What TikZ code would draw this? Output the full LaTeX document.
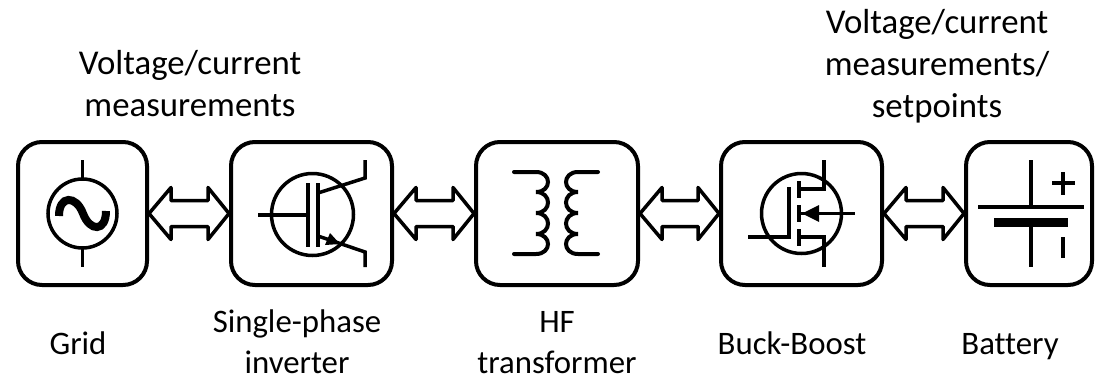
\documentclass[tikz,border=0pt]{standalone}
\usepackage{fontspec}
\setmainfont[Ligatures=NoCommon]{Carlito}
\usepackage{tikz}
\usetikzlibrary{calc}

\tikzset{
    unitbox/.style={draw=black, line width=4pt, rounded corners=24pt, minimum height=143pt},
    label/.style={anchor=base, inner sep=0pt, align=center, font=\fontsize{34.8}{42}\selectfont},
    unitlabel/.style={label, font=\fontsize{32.8}{41}\selectfont},
    symline/.style={line width=3.5pt},
    coil/.style={line width=4pt, line cap=round},
    linkarrow/.style={line width=3.5pt, line join=round, to path={%
        -- ($(\tikztostart)+(22,-26)$) -- ($(\tikztostart)+(22,-13)$)
        -- ($(\tikztotarget)+(-21,-13)$) -- ($(\tikztotarget)+(-21,-26)$)
        -- (\tikztotarget)
        -- ($(\tikztotarget)+(-21,26)$) -- ($(\tikztotarget)+(-21,13)$)
        -- ($(\tikztostart)+(22,13)$) -- ($(\tikztostart)+(22,26)$) -- cycle}}
}

\begin{document}
\begin{tikzpicture}[x=1pt, y=-1pt]
    \useasboundingbox (0, 0) rectangle (1099, 378);

    \node[unitbox, minimum width=129pt] (grid) at (82.5, 213.5) {};
    \node[unitbox, minimum width=161pt] (inverter) at (311.5, 213.5) {};
    \node[unitbox, minimum width=162pt] (transformer) at (557, 213.5) {};
    \node[unitbox, minimum width=161pt] (buckboost) at (801.5, 213.5) {};
    \node[unitbox, minimum width=126pt] (battery) at (1029, 213.5) {};

    \draw[linkarrow] (grid.east) to (inverter.west);
    \draw[linkarrow] (inverter.east) to (transformer.west);
    \draw[linkarrow] (transformer.east) to (buckboost.west);
    \draw[linkarrow] (buckboost.east) to (battery.west);

    % source
    \draw[symline] (82.5, 213.5) circle (34.5);
    \draw[symline] (82.5, 160) -- (82.5, 179);
    \draw[symline] (82.5, 248) -- (82.5, 267);
    \draw[line width=8pt] (59, 216) .. controls (59, 195) and (76, 195) .. (83, 213.5)
                                    .. controls (90, 232) and (106, 232) .. (106, 211);

    % igbt
    \draw[symline] (312.5, 214.5) circle (41);
    \draw[symline] (258, 215) -- (308, 215);
    \draw[symline] (308, 183) -- (308, 247);
    \draw[symline] (318, 183) -- (318, 247);
    \draw[symline] (318, 193) -- (365, 178) -- (365, 160);
    \draw[symline] (318, 236) -- (365, 252) -- (365, 267);
    \fill (330, 233) -- (340, 244) -- (325, 245) -- cycle;

    % windings
    \draw[coil] (514, 172) -- (536, 172)
        .. controls (552, 172) and (552, 192) .. (536, 192)
        .. controls (552, 192) and (552, 213) .. (536, 213)
        .. controls (552, 213) and (552, 234) .. (536, 234)
        .. controls (552, 234) and (552, 254) .. (536, 254) -- (514, 254);
    \draw[coil] (598, 172) -- (578, 172)
        .. controls (562, 172) and (562, 192) .. (578, 192)
        .. controls (562, 192) and (562, 213) .. (578, 213)
        .. controls (562, 213) and (562, 234) .. (578, 234)
        .. controls (562, 234) and (562, 254) .. (578, 254) -- (598, 254);

    % mosfet
    \draw[symline] (801.5, 213.5) circle (40);
    \draw[symline] (748, 237) -- (789, 237) -- (789, 187);
    \draw[line width=4.5pt] (799, 181) -- (799, 198);
    \draw[line width=4.5pt] (799, 205) -- (799, 222);
    \draw[line width=4.5pt] (799, 229) -- (799, 246);
    \draw[symline] (799, 189) -- (824, 189) -- (824, 160);
    \draw[symline] (799, 237) -- (824, 237) -- (824, 267);
    \draw[symline] (799, 213.5) -- (855, 213.5);
    \fill (802, 213.5) -- (819, 205) -- (819, 222) -- cycle;

    % cell
    \draw[line width=4pt] (1031, 160) -- (1031, 207);
    \draw[line width=4pt] (978, 207) -- (1084, 207);
    \fill (994, 218) rectangle (1068, 227);
    \draw[line width=4pt] (1031, 227) -- (1031, 267);
    \draw[line width=4pt] (1052, 183) -- (1075, 183);
    \draw[line width=4pt] (1063, 172) -- (1063, 195);
    \draw[line width=4pt] (1063, 237) -- (1063, 258);

    \node[label] (measleft) at (190, 116) {Voltage/current\\measurements};
    \node[label] (measright) at (937, 117) {Voltage/current\\measurements/\\setpoints};
    \node[unitlabel] (gridlabel) at (78, 354) {Grid};
    \node[unitlabel] (inverterlabel) at (297, 373.5) {Single-phase\\inverter};
    \node[unitlabel] (transformerlabel) at (557, 373.5) {HF\\transformer};
    \node[unitlabel] (buckboostlabel) at (792, 354) {Buck-Boost};
    \node[unitlabel] (batterylabel) at (1010, 354) {Battery};
\end{tikzpicture}
\end{document}
